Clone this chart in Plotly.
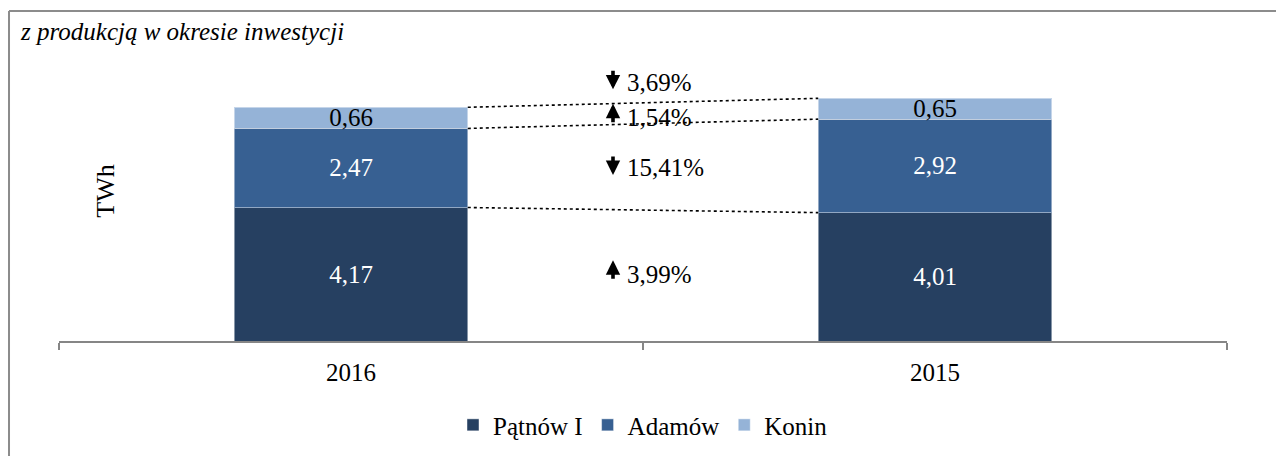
import plotly.graph_objects as go

years = ["2016", "2015"]
patnow = [4.17, 4.01]
adamow = [2.47, 2.92]
konin = [0.66, 0.65]
totals = [7.30, 7.58]
series_names = ["Pątnów I", "Adamów", "Konin"]
colors = ["#264061", "#376092", "#95B3D7"]
label_colors = ["white", "white", "black"]
change_labels = ["3,69%", "1,54%", "15,41%", "3,99%"]
change_dirs = ["down", "up", "down", "up"]

FONT = "Liberation Serif"
FS = 25

def fmt(v):
    return f"{v:.2f}".replace(".", ",")

fig = go.Figure()
for name, vals, col, lc in zip(series_names, [patnow, adamow, konin], colors, label_colors):
    fig.add_trace(go.Bar(
        x=years, y=vals, name=name,
        marker=dict(color=col, line=dict(color="rgba(255,255,255,0.45)", width=1)),
        text=[fmt(v) for v in vals], textposition="inside", insidetextanchor="middle",
        constraintext="none",
        textfont=dict(family=FONT, size=FS, color=lc),
        width=0.4,
    ))

# cumulative levels for connectors
lvl1 = patnow
lvl2 = [p + a for p, a in zip(patnow, adamow)]
lvl3 = totals
for lv in [lvl1, lvl2, lvl3]:
    fig.add_shape(type="line", xref="x", yref="y", x0=0.2, x1=0.8, y0=lv[0], y1=lv[1],
                  line=dict(color="black", width=1.6, dash="dot"))

annotations = []
for i, t in enumerate(totals):
    annotations.append(dict(x=years[i], y=t, xref="x", yref="y", text=fmt(t), showarrow=False,
                            yshift=25, font=dict(family=FONT, size=FS, color="black")))

# positions of change labels: middle of 2016 segments, and above total
ys = [totals[0] + 0.78,
      lvl2[0] + konin[0] / 2,
      patnow[0] + adamow[0] / 2,
      patnow[0] / 2]
for lab, d, yv in zip(change_labels, change_dirs, ys):
    annotations.append(dict(
        x=0.5, y=yv, xref="x", yref="y", xshift=-18, xanchor="left", showarrow=False,
        text=lab, font=dict(family=FONT, size=FS, color="black")))
    down = d == "down"
    annotations.append(dict(
        x=0.5, y=yv, xref="x", yref="y", xshift=-30, yshift=(-7 if down else 14), text="",
        showarrow=True, arrowhead=2, arrowwidth=3.6, arrowsize=0.8, arrowcolor="black",
        ax=0, ay=(-20 if down else 20), standoff=0, startstandoff=0))

annotations.append(dict(x=-0.0351, y=1.062, xref="paper", yref="paper", xanchor="left", yanchor="middle",
                        text="<i>z produkcją w okresie inwestycji</i>", showarrow=False,
                        font=dict(family=FONT, size=FS, color="black")))
annotations.append(dict(x=0.0257, y=0.515, xref="paper", yref="paper", textangle=-90,
                        text="TWh", showarrow=False, font=dict(family=FONT, size=26, color="black")))

# frame (left and top)
fig.add_shape(type="line", xref="paper", yref="paper", x0=-0.0428, x1=-0.0428, y0=1.134, y1=-0.45,
              line=dict(color="#8c8c8c", width=2))
fig.add_shape(type="line", xref="paper", yref="paper", x0=-0.0428, x1=1.08, y0=1.134, y1=1.134,
              line=dict(color="#8c8c8c", width=2))

fig.update_layout(
    barmode="stack",
    width=1284, height=456,
    margin=dict(l=51, r=65, t=42, b=123),
    plot_bgcolor="white", paper_bgcolor="white",
    font=dict(family=FONT, size=FS, color="black"),
    showlegend=True,
    legend=dict(orientation="h", x=0.5, xanchor="center", y=-0.289, yanchor="middle",
                font=dict(family=FONT, size=FS), traceorder="normal", itemwidth=30),
    annotations=annotations,
    xaxis=dict(showline=True, linecolor="#868686", linewidth=2, ticks="outside", tickson="boundaries",
               ticklen=7, tickcolor="#868686", tickwidth=2, showgrid=False, ticklabelstandoff=8,
               tickfont=dict(family=FONT, size=FS), range=[-0.5, 1.5]),
    yaxis=dict(range=[0, 9.09], visible=False, showgrid=False),
)
fig.write_html("out.html")
